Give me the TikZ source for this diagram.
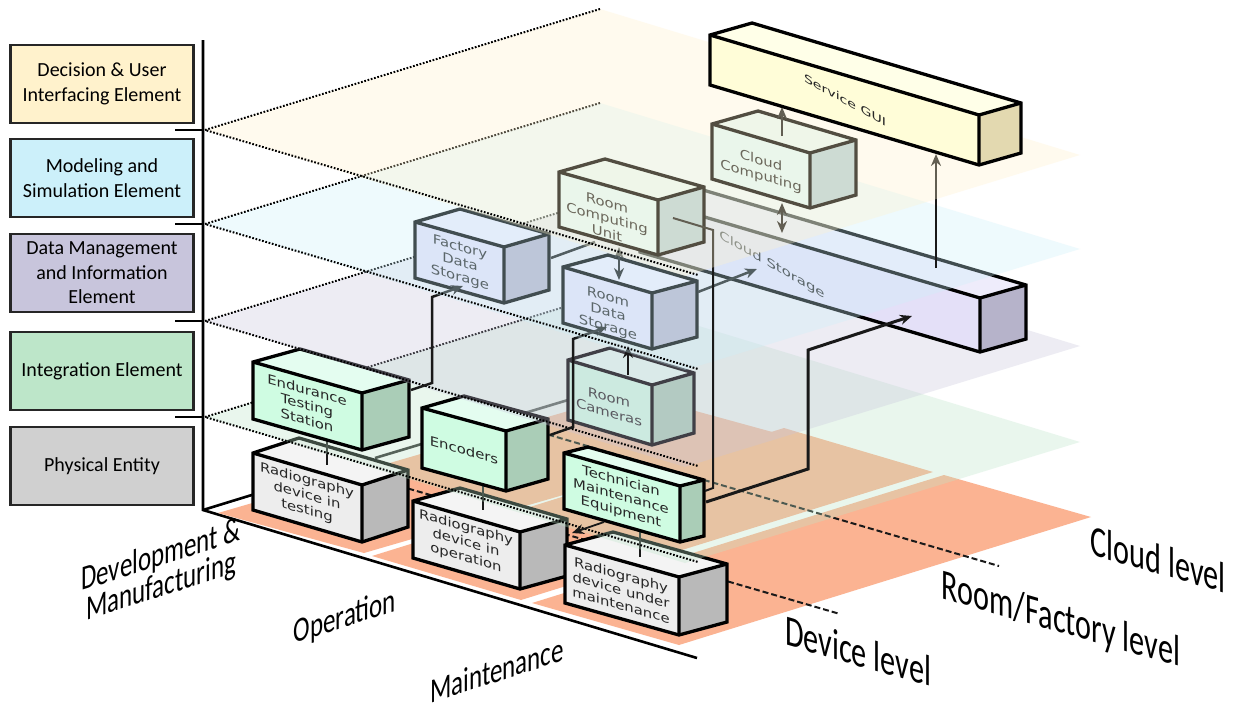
\documentclass[tikz,border=0pt]{standalone}
\usepackage{fontspec}
\setmainfont{Carlito}
\newfontfamily\boxfont{DejaVu Sans}
\usetikzlibrary{arrows.meta,calc}
% cuboid face palettes: F front, T top, S side
\definecolor{devF}{HTML}{EDEDED}\definecolor{devT}{HTML}{F4F4F4}\definecolor{devS}{HTML}{B9B9B9}
\definecolor{intF}{HTML}{CFFCE2}\definecolor{intT}{HTML}{E4FDF0}\definecolor{intS}{HTML}{AACDB7}
\definecolor{datF}{HTML}{E4E0F8}\definecolor{datT}{HTML}{EEECFB}\definecolor{datS}{HTML}{B6B3CA}
\definecolor{modF}{HTML}{E1F9FA}\definecolor{modT}{HTML}{E8F9F7}\definecolor{modS}{HTML}{B6D1D7}
\definecolor{guiF}{HTML}{FFFDD8}\definecolor{guiT}{HTML}{FFFFE8}\definecolor{guiS}{HTML}{E3D9B0}
\definecolor{lvlY}{HTML}{FFF2CC}\definecolor{lvlB}{HTML}{CCF0FA}\definecolor{lvlP}{HTML}{C8C5DC}
\definecolor{lvlG}{HTML}{BDE6C9}\definecolor{lvlE}{HTML}{D0D0D0}\definecolor{floorC}{HTML}{FBB392}
\tikzset{
  boxedge/.style={line width=3.3pt,draw=black,line join=miter},
  elemBox/.style={draw=black!85,line width=2.6pt,minimum width=183pt,minimum height=78pt,align=center,inner sep=0pt,
     font=\fontsize{20}{24.5}\selectfont,text=black},
  facetxt/.style={cm={1.06,-0.3,0,0.92,(0,0)},align=center,inner sep=0pt,
     font=\boxfont\fontsize{14}{16.5}\selectfont,text=black!85},
  lvltxt/.style={cm={1.08,-0.31,0,1.55,(0,0)},inner sep=0pt,font=\fontsize{28}{30}\selectfont,text=black},
  lanetxt/.style={cm={1.04,0.33,0,1.45,(0,0)},inner sep=0pt,align=center,font=\fontsize{24}{20}\selectfont,text=black},
  dotline/.style={line width=2pt,dash pattern=on 1.7pt off 1.7pt,black},
  dashln/.style={line width=2pt,dash pattern=on 6pt off 3pt,black!90},
  axisln/.style={line width=2.6pt,black},
  wire/.style={line width=2.5pt,black!90},
  thinwire/.style={line width=2pt,black!90},
  arrowwire/.style={wire,-{Stealth[length=12pt,width=10pt]}},
  twoway/.style={wire,{Stealth[length=12pt,width=10pt]}-{Stealth[length=12pt,width=10pt]}},
}
% \cuboid{name}{Ax}{Ay}{Bx}{By}{h}{dx}{dy}{palette}
\newcommand{\cuboid}[9]{%
  \coordinate (#1a) at (#2,#3);
  \coordinate (#1b) at (#4,#5);
  \coordinate (#1c) at ($(#1b)+(0,#6)$);
  \coordinate (#1d) at ($(#1a)+(0,#6)$);
  \coordinate (#1e) at ($(#1b)+(#7,-#8)$);
  \coordinate (#1f) at ($(#1e)+(0,#6)$);
  \coordinate (#1g) at ($(#1a)+(#7,-#8)$);
  \fill[#9F] (#1a) -- (#1b) -- (#1c) -- (#1d) -- cycle;
  \fill[#9T] (#1a) -- (#1b) -- (#1e) -- (#1g) -- cycle;
  \fill[#9S] (#1b) -- (#1e) -- (#1f) -- (#1c) -- cycle;
  \draw[boxedge] (#1a) -- (#1g) -- (#1e) -- (#1f) -- (#1c) -- (#1d) -- cycle;
  \draw[boxedge] (#1a) -- (#1b) -- (#1e) (#1b) -- (#1c);
}
% \levelplane{name}{colour}{y of left corner}
\newcommand{\levelplane}[3]{%
  \coordinate (#1l) at (205,#3);
  \coordinate (#1t) at ($(#1l)+(395,-121)$);
  \coordinate (#1r) at ($(#1l)+(875,25)$);
  \coordinate (#1b) at ($(#1l)+(480,146)$);
  \coordinate (#1e) at ($(#1l)+(493,145)$);
  \fill[#2,fill opacity=0.32] (#1l) -- (#1t) -- (#1r) -- (#1b) -- cycle;
  \draw[dotline] (#1t) -- (#1l) -- (#1e);
}
\begin{document}
\begin{tikzpicture}[x=1pt,y=-1pt]
\useasboundingbox (0,0) rectangle (1238,704);
\fill[white] (0,0) rectangle (1238,704);

% axes
\coordinate (axtop) at (203,40);
\coordinate (axo) at (203,510);
\coordinate (axend) at (697,658);
\coordinate (axstub) at (255,494);
\draw[axisln,line join=miter] (axtop) -- (axo) -- (axend);
\draw[axisln] (axo) -- (axstub);
\foreach \nm/\yy in {t1/130,t2/224,t3/321,t4/417}{
  \coordinate (\nm a) at (175,\yy);
  \coordinate (\nm b) at (203,\yy);
  \draw[axisln] (\nm a) -- (\nm b);
}

% floor lanes
\fill[floorC] (218,513) -- (364,553) -- (776,433) -- (630,393) -- cycle;
\fill[floorC] (372,556) -- (521,600) -- (933,472) -- (784,428) -- cycle;
\fill[floorC] (532,603) -- (679,645) -- (1091,517) -- (944,475) -- cycle;

% level boundaries
\coordinate (roomA) at (505,422);
\coordinate (roomB) at (999,566);
\coordinate (devA) at (365,476);
\coordinate (devB) at (840,614);
\draw[dashln] (roomA) -- (roomB);
\draw[dashln] (devA) -- (devB);

% device → cameras
\coordinate (linkA) at (375,458);
\coordinate (linkB) at (568,400);
\draw[line width=2.6pt,black!85] (linkA) -- (linkB);

% device level
\cuboid{rt}{253}{453}{362}{485}{57}{46}{15}{dev}
\node[facetxt] (rtx) at (307,496) {Radiography\\device in\\testing};
\cuboid{ro}{413}{501}{520}{532}{57}{47}{13}{dev}
\node[facetxt] (rox) at (466,543) {Radiography\\device in\\operation};
\cuboid{rm}{565}{545}{679}{577}{58}{48}{13}{dev}
\node[facetxt] (rmx) at (621,590) {Radiography\\device under\\maintenance};

\coordinate (vA1) at (327,440); \coordinate (vA2) at (327,465);
\coordinate (vB1) at (483,485); \coordinate (vB2) at (483,510);
\coordinate (vC1) at (640,530); \coordinate (vC2) at (640,557);
\draw[thinwire] (vA1) -- (vA2);
\draw[thinwire] (vB1) -- (vB2);
\draw[thinwire] (vC1) -- (vC2);

% integration level
\levelplane{pg}{lvlG}{417}
\cuboid{rc}{568}{360}{652}{385}{60}{42}{12}{int}
\node[facetxt] (rcx) at (609,405) {Room\\Cameras};
\cuboid{en}{253}{362}{362}{393}{57}{47}{13}{int}
\node[facetxt] (enx) at (307,405) {Endurance\\Testing\\Station};
\cuboid{ec}{422}{408}{506}{431}{60}{42}{12}{int}
\node[facetxt] (ecx) at (464,450) {Encoders};
\cuboid{te}{564}{453}{680}{486}{56}{24}{6}{int}
\node[facetxt] (tex) at (621,497) {Technician\\Maintenance\\Equipment};

\coordinate (tmA) at (604,522);
\coordinate (tmB) at (572,533);
\draw[arrowwire,line width=1.8pt] (tmA) -- (tmB);

% data level
\levelplane{pp}{lvlP}{321}
\cuboid{cs}{640}{198}{980}{298}{54}{46}{13}{dat}
\node[facetxt,cm={1.0,-0.33,0,0.92,(0,0)}] (csx) at (772,265) {Cloud Storage};
\cuboid{fd}{415}{222}{504}{247}{56}{45}{13}{dat}
\node[facetxt] (fdx) at (460,263) {Factory\\Data\\Storage};
\cuboid{rd}{563}{267}{652}{293}{56}{45}{12}{dat}
\node[facetxt] (rdx) at (608,313) {Room\\Data\\Storage};

% connectors on the data level
\coordinate (w1a) at (411,390); \coordinate (w1b) at (432,383); \coordinate (w1c) at (432,297); \coordinate (w1d) at (463,286);
\draw[arrowwire,line join=miter] (w1a) -- (w1b) -- (w1c) -- (w1d);
\coordinate (w2a) at (550,435); \coordinate (w2b) at (573,427); \coordinate (w2c) at (573,339); \coordinate (w2d) at (607,327);
\draw[arrowwire,line join=miter] (w2a) -- (w2b) -- (w2c) -- (w2d);
\coordinate (w3a) at (628,375); \coordinate (w3b) at (628,346);
\draw[arrowwire] (w3a) -- (w3b);
\coordinate (w4a) at (706,502); \coordinate (w4b) at (808,469); \coordinate (w4c) at (808,350); \coordinate (w4d) at (912,316);
\draw[arrowwire,line width=3pt,line join=miter] (w4a) -- (w4b) -- (w4c) -- (w4d);
\coordinate (w5a) at (698,292); \coordinate (w5b) at (757,269);
\draw[arrowwire] (w5a) -- (w5b);
\coordinate (w6a) at (551,258); \coordinate (w6b) at (595,242);
\draw[wire] (w6a) -- (w6b);
\coordinate (w7a) at (619,247); \coordinate (w7b) at (619,280);
\draw[twoway] (w7a) -- (w7b);

% modelling level
\levelplane{pb}{lvlB}{224}
\cuboid{rp}{559}{172}{658}{200}{55}{46}{13}{mod}
\node[facetxt] (rpx) at (607,218) {Room\\Computing\\Unit};
\cuboid{cc}{712}{124}{810}{153}{55}{46}{13}{mod}
\node[facetxt] (ccx) at (761,169) {Cloud\\Computing};

\coordinate (w8a) at (673,218); \coordinate (w8b) at (713,230); \coordinate (w8c) at (713,488); \coordinate (w8d) at (705,491);
\draw[thinwire,line join=miter] (w8a) -- (w8b) -- (w8c) -- (w8d);
\coordinate (w9a) at (936,268); \coordinate (w9b) at (936,154);
\draw[arrowwire] (w9a) -- (w9b);
\coordinate (w10a) at (782,203); \coordinate (w10b) at (782,233);
\draw[twoway] (w10a) -- (w10b);
\coordinate (w11a) at (782,136); \coordinate (w11b) at (782,107);
\draw[arrowwire] (w11a) -- (w11b);

% decision level
\levelplane{py}{lvlY}{130}
\cuboid{sg}{710}{35}{979}{115}{50}{42}{12}{gui}
\node[facetxt,cm={0.95,-0.3,0,0.85,(0,0)}] (sgx) at (845,100) {Service GUI};

% element column
\node[elemBox,fill=lvlY] (e1) at (102,84) {Decision \& User\\Interfacing Element};
\node[elemBox,fill=lvlB] (e2) at (102,178) {Modeling and\\Simulation Element};
\node[elemBox,fill=lvlP] (e3) at (102,273) {Data Management\\and Information\\Element};
\node[elemBox,fill=lvlG] (e4) at (102,371) {Integration Element};
\node[elemBox,fill=lvlE] (e5) at (102,466) {Physical Entity};

% axis labels
\node[lanetxt] (l1) at (161,572) {Development \&\\Manufacturing};
\node[lanetxt] (l2) at (345,618) {Operation};
\node[lanetxt] (l3) at (497,670) {Maintenance};
\node[lvltxt] (l4) at (858,651) {Device level};
\node[lvltxt] (l5) at (1061,621) {Room/Factory level};
\node[lvltxt] (l6) at (1158,559) {Cloud level};
\end{tikzpicture}
\end{document}
